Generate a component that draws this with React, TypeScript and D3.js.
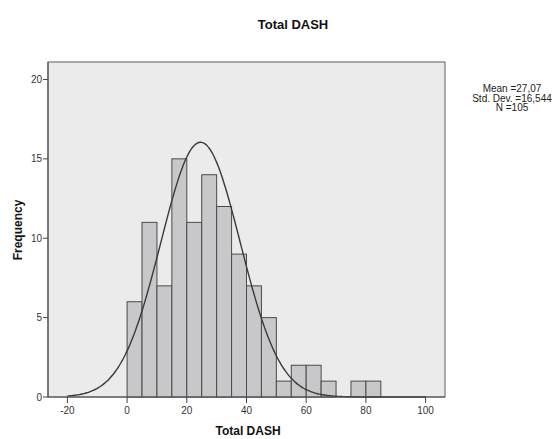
import React from "react";
import * as d3 from "d3";

const binStarts = [0, 5, 10, 15, 20, 25, 30, 35, 40, 45, 50, 55, 60, 65, 70, 75, 80];
const binCounts = [6, 11, 7, 15, 11, 14, 12, 9, 7, 5, 1, 2, 2, 1, 0, 1, 1];
const binWidth = 5;
const xTicks = [-20, 0, 20, 40, 60, 80, 100];
const yTicks = [0, 5, 10, 15, 20];
const statsLines = ["Mean =27,07", "Std. Dev. =16,544", "N =105"];
const curveMean = 24.6;
const curveSd = 13.3;
const curvePeak = 16.05;

const W = 556;
const H = 439;
const left = 48;
const right = 445;
const top = 62;
const bottom = 397;

export default function App() {
  const x = d3.scaleLinear().domain([-26.5, 106.5]).range([left, right]);
  const y = d3.scaleLinear().domain([0, 21.1]).range([bottom, top]);
  const curvePts = d3.range(-20, 100.01, 0.5).map((v) => [v, curvePeak * Math.exp(-((v - curveMean) ** 2) / (2 * curveSd * curveSd))]);
  const line = d3
    .line<number[]>()
    .x((d) => x(d[0]))
    .y((d) => y(d[1]))
    .curve(d3.curveBasis);
  const font = "'Liberation Sans', Arial, sans-serif";
  return (
    <svg width={W} height={H} style={{ position: "absolute", left: 0, top: 0, fontFamily: font }}>
      <rect x={0} y={0} width={W} height={H} fill="#ffffff" />
      <text x={293} y={29} textAnchor="middle" fontSize={13} fontWeight="bold" fill="#111">Total DASH</text>
      <rect x={left} y={top} width={right - left} height={bottom - top} fill="#ebebeb" stroke="#777" strokeWidth={1.2} />
      {binStarts.map((s, i) =>
        binCounts[i] > 0 ? (
          <rect
            key={i}
            x={x(s)}
            y={y(binCounts[i])}
            width={x(s + binWidth) - x(s)}
            height={y(0) - y(binCounts[i])}
            fill="#c8c8ca"
            stroke="#4a4a4a"
            strokeWidth={1}
          />
        ) : null
      )}
      <path d={line(curvePts) || ""} fill="none" stroke="#3a3a3a" strokeWidth={1.4} />
      <line x1={left} x2={right} y1={bottom} y2={bottom} stroke="#555" strokeWidth={1.2} />
      <line x1={left} x2={left} y1={top} y2={bottom} stroke="#555" strokeWidth={1.2} />
      {yTicks.map((t) => (
        <g key={t}>
          <line x1={left - 5} x2={left} y1={y(t)} y2={y(t)} stroke="#444" />
          <text x={left - 6} y={y(t) + 3.5} textAnchor="end" fontSize={10} fill="#333">{t}</text>
        </g>
      ))}
      {xTicks.map((t) => (
        <g key={t}>
          <line x1={x(t)} x2={x(t)} y1={bottom} y2={bottom + 6} stroke="#444" />
          <text x={x(t)} y={bottom + 17} textAnchor="middle" fontSize={10} fill="#333">{t}</text>
        </g>
      ))}
      <text x={248} y={435} textAnchor="middle" fontSize={12} fontWeight="bold" fill="#111">Total DASH</text>
      <text transform={`translate(22,230) rotate(-90)`} textAnchor="middle" fontSize={12} fontWeight="bold" fill="#111">Frequency</text>
      {statsLines.map((s, i) => (
        <text key={i} x={512} y={92 + i * 9.5} textAnchor="middle" fontSize={10} fill="#222">{s}</text>
      ))}
    </svg>
  );
}
